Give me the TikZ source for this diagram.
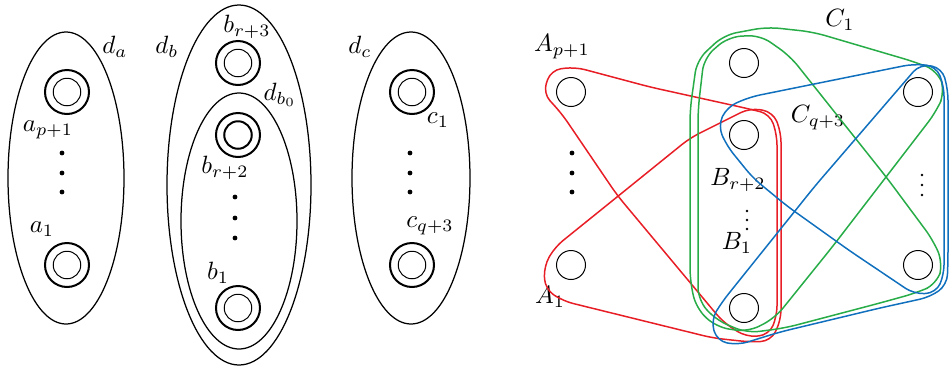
\documentclass[tikz,border=0pt]{standalone}
\usepackage{amsmath}
\usepackage{amssymb}
\usetikzlibrary{positioning,calc}

\definecolor{hred}{RGB}{232,30,38}
\definecolor{hgreen}{RGB}{40,172,72}
\definecolor{hblue}{RGB}{16,112,190}

\begin{document}
\begin{tikzpicture}[x=0.4pt, y=-0.4pt,
  vtx/.style={draw, circle, line width=0.8pt, minimum size=17.6pt, inner sep=0pt},
  invtx/.style={draw, circle, line width=0.4pt, minimum size=11pt, inner sep=0pt},
  pt/.style={draw, circle, line width=0.4pt, minimum size=11.6pt, inner sep=0pt},
  bag/.style={draw, line width=0.5pt},
  lbl/.style={inner sep=1pt},
  hyper/.style={line width=0.6pt, rounded corners=4pt},
  bighyper/.style={line width=0.6pt, rounded corners=5pt},
]
  \useasboundingbox (0,0) rectangle (949,368);

  % --- left: the bags d_a, d_b, d_b0, d_c ---------------------------
  \foreach \n/\x/\y in {a2/67/92, a1/67/265, b3/238/63, b1/238/308, c1/412/92, c2/412/265} {
    \node[vtx] (\n) at (\x,\y) {};
    \node[invtx] (\n i) at (\n) {};
  }
  \node[vtx] (b2) at (238,135) {};
  \node[invtx, line width=0.8pt] (b2i) at (b2) {};

  \foreach \y in {153,173,192} {
    \fill (62,\y) circle [radius=2.4];
    \fill (410,\y) circle [radius=2.4];
  }
  \foreach \y in {197,218,238}
    \fill (235,\y) circle [radius=2.4];

  \draw[bag] (66,178) ellipse [x radius=58, y radius=146];
  \draw[bag] (239,185) ellipse [x radius=72, y radius=180];
  \draw[bag] (239,221) ellipse [x radius=58, y radius=128];
  \draw[bag] (411,178) ellipse [x radius=59, y radius=146];

  \node[lbl] (da)  at (115,47)  {$d_a$};
  \node[lbl] (db)  at (167,47)  {$d_b$};
  \node[lbl] (db0) at (280,95)  {$d_{b_0}$};
  \node[lbl] (dc)  at (360,47)  {$d_c$};
  \node[lbl] (la2) at (48,130)  {$a_{p+1}$};
  \node[lbl] (la1) at (42,229)  {$a_1$};
  \node[lbl] (lb3) at (247,27)  {$b_{r+3}$};
  \node[lbl] (lb2) at (225,168) {$b_{r+2}$};
  \node[lbl] (lb1) at (218,273) {$b_1$};
  \node[lbl] (lc1) at (438,120) {$c_1$};
  \node[lbl] (lc2) at (430,226) {$c_{q+3}$};

  % --- right: the hypergraph --------------------------------------------
  \foreach \n/\x/\y in {Ap/571/92, A1/571/265, Ct/744/63, Bt/744/135, Bb/744/308, Rt/918/92, Rb/918/265}
    \node[pt] (\n) at (\x,\y) {};

  \foreach \y in {153,173,192}
    \fill (572,\y) circle [radius=2.4];
  \foreach \y in {211,220,229}
    \fill (747,\y) circle [radius=1.3];
  \foreach \y in {175,185,195}
    \fill (922,\y) circle [radius=1.3];

  \node[lbl] (lAp) at (562,47)  {$A_{p+1}$};
  \node[lbl] (lA1) at (550,297) {$A_1$};
  \node[lbl] (lBt) at (738,180) {$B_{r+2}$};
  \node[lbl] (lBb) at (737,243) {$B_1$};
  \node[lbl] (lC1) at (840,20)  {$C_1$};
  \node[lbl] (lCq) at (818,118) {$C_{q+3}$};

  % red edges
  \draw[hyper, hred] (562,114) -- (543,93) -- (551,70) -- (575,67) -- (650,87) -- (745,108)
    -- (770,114) -- (777,135) -- (777,316) -- (769,335) -- (746,337) -- (723,322) -- (617,195) -- cycle;
  \draw[hyper, hred] (750,108) -- (773,112) -- (781,132) -- (781,320) -- (771,341) -- (750,342)
    -- (713,338) -- (563,301) -- (545,289) -- (544,266) -- (555,247) -- (617,197) -- (690,138) -- cycle;

  % green edges
  \draw[bighyper, hgreen] (690,280) -- (690,110) -- (697,60) -- (724,35) -- (767,27) -- (813,32)
    -- (915,62) -- (938,71) -- (945,92) -- (936,112) -- (833,246) -- (775,318)
    -- (748,332) -- (716,327) -- (696,308) -- cycle;
  \draw[bighyper, hgreen] (698,300) -- (698,110) -- (704,58) -- (728,37) -- (760,35) -- (790,56)
    -- (887,178) -- (933,240) -- (943,263) -- (937,284) -- (916,293) -- (880,303)
    -- (785,328) -- (747,333) -- (716,320) -- cycle;

  % blue edges
  \draw[hyper, hblue] (727,146) -- (718,126) -- (727,107) -- (750,97) -- (913,64) -- (936,66)
    -- (944,86) -- (944,275) -- (936,293) -- (914,294) -- (850,251) -- (787,206) -- (753,178) -- cycle;
  \draw[hyper, hblue] (722,302) -- (711,320) -- (717,341) -- (738,345) -- (780,332) -- (880,308)
    -- (930,297) -- (947,285) -- (948,262) -- (948,90) -- (942,68) -- (920,64)
    -- (815,186) -- cycle;
\end{tikzpicture}
\end{document}
